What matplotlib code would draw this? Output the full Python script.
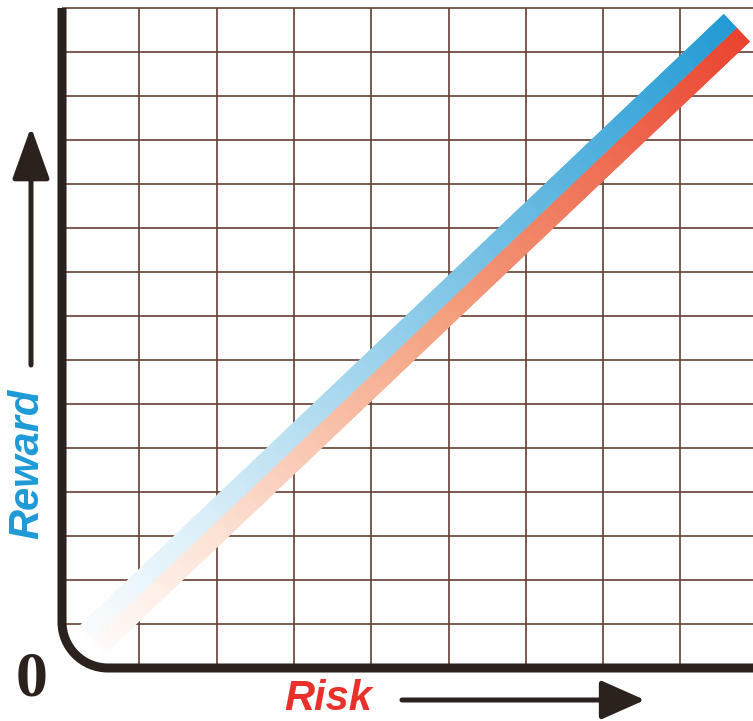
import numpy as np
import matplotlib
matplotlib.use("Agg")
import matplotlib.pyplot as plt
from matplotlib.collections import LineCollection
from matplotlib.colors import LinearSegmentedColormap
from matplotlib.path import Path
from matplotlib.patches import PathPatch
from matplotlib.transforms import Affine2D

# grid units: one column / one row of the chart paper
risk = [0.39, 8.73]       # start and end of the risk/reward line
reward = [0.64, 14.55]
n_cols = 8
n_rows = 15

blue_stops = ["#ffffff", "#dceff9", "#88c9e8", "#239bd4"]
red_stops = ["#ffffff", "#fde3d6", "#f4a07f", "#ea4430"]

W, H = 753, 721
DARK = "#2b221e"
GRID = "#634032"


def px(x, y):
    # image pixel (top-left origin) -> figure fraction
    return x / W, 1 - y / H


fig = plt.figure(figsize=(W / 100, H / 100), dpi=100)
left, bottom = 62, 668
ax = fig.add_axes([left / W, (H - bottom) / H, (W - left) / W, bottom / H])
ax.set_xlim(0, (W - left) / 77.3)
ax.set_ylim(0, bottom / 44.0)
ax.axis("off")
xmax = ax.get_xlim()[1]

# chart paper grid
ax.hlines(np.arange(1, n_rows + 1), 0, xmax, color=GRID, lw=1.2, zorder=1)
ax.vlines(np.arange(1, n_cols + 1), 0, n_rows, color=GRID, lw=1.2, zorder=1)


def band(stops, side, width_px=19, n=240):
    cmap = LinearSegmentedColormap.from_list("band", list(zip([0, 0.2, 0.55, 1], stops)))
    p0 = ax.transData.transform((risk[0], reward[0]))
    p1 = ax.transData.transform((risk[1], reward[1]))
    d = (p1 - p0) / np.hypot(*(p1 - p0))
    perp = np.array([-d[1], d[0]]) * side * width_px / 2
    trans = ax.transData + Affine2D().translate(*perp)
    t = np.linspace(0, 1, n + 1)
    xs = risk[0] + t * (risk[1] - risk[0])
    ys = reward[0] + t * (reward[1] - reward[0])
    segs, cols = [], []
    for i in range(n):
        j = min(i + 2, n)
        segs.append([(xs[i], ys[i]), (xs[j], ys[j])])
        cols.append(cmap(0.03 + 0.97 * (t[i] + t[i + 1]) / 2))
    lc = LineCollection(segs, colors=cols, linewidths=width_px * 0.72,
                        capstyle="butt", transform=trans, zorder=3)
    ax.add_collection(lc)


band(red_stops, -1)
band(blue_stops, 1)

# axis frame with rounded corner
rx, ry = 46 / 77.3, 46 / 44.0
k = 0.5523
verts = [(0, n_rows), (0, ry), (0, ry - k * ry), (rx - k * rx, 0), (rx, 0), (xmax, 0)]
codes = [Path.MOVETO, Path.LINETO, Path.CURVE4, Path.CURVE4, Path.CURVE4, Path.LINETO]
ax.add_patch(PathPatch(Path(verts, codes), fill=False, lw=6.5, ec=DARK,
                       capstyle="butt", joinstyle="round", clip_on=False, zorder=5))

# labels and arrows
fig.text(*px(32, 680), "0", ha="center", va="center", fontsize=46,
         family="Liberation Serif", weight="bold", color=DARK)
fig.text(*px(27, 464), "Reward", ha="center", va="center", rotation=90,
         fontsize=30, family="Liberation Sans", weight="bold", style="italic",
         color="#1e9ad6")
fig.text(*px(328, 699), "Risk", ha="center", va="center", fontsize=30,
         family="Liberation Sans", weight="bold", style="italic", color="#e8312a")

ax.annotate("", xy=(31, H - 127), xytext=(31, H - 365), xycoords="figure pixels",
            arrowprops=dict(arrowstyle="-|>,head_length=32,head_width=11.5",
                            mutation_scale=1, lw=3.6, color=DARK,
                            shrinkA=0, shrinkB=0))
ax.annotate("", xy=(645, H - 700), xytext=(402, H - 700), xycoords="figure pixels",
            arrowprops=dict(arrowstyle="-|>,head_length=27,head_width=12",
                            mutation_scale=1, lw=3.6, color=DARK,
                            shrinkA=0, shrinkB=0))

fig.savefig("out.png", dpi=100, facecolor="white")
